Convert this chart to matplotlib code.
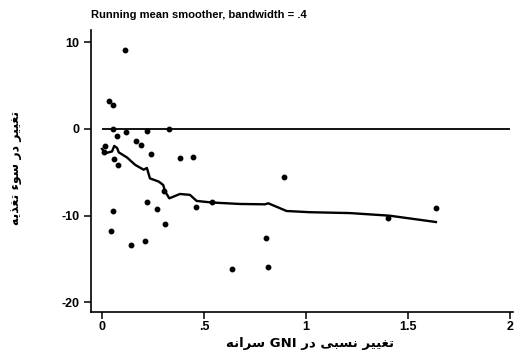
import matplotlib
matplotlib.use("Agg")
import matplotlib.pyplot as plt

# relative change in GNI per capita vs change in malnutrition
gni_change = [0.113, 0.034, 0.052, 0.054, 0.117, 0.221, 0.327, 0.075, 0.168,
              0.191, 0.013, 0.008, 0.060, 0.077, 0.242, 0.384, 0.445, 0.892,
              0.302, 0.219, 0.268, 0.052, 0.307, 0.043, 0.140, 0.209, 0.459,
              0.538, 0.805, 0.812, 0.637, 1.637, 1.402]
malnutrition_change = [9.1, 3.2, 2.8, 0.0, -0.35, -0.2, 0.0, -0.77, -1.4,
                       -1.85, -2.0, -2.7, -3.5, -4.2, -2.9, -3.4, -3.2, -5.55,
                       -7.1, -8.4, -9.27, -9.46, -11.0, -11.76, -13.35, -12.9,
                       -9.05, -8.48, -12.6, -15.9, -16.2, -9.07, -10.27]

# running mean smoother (bandwidth .4)
smooth_x = [0.0, 0.016, 0.049, 0.060, 0.074, 0.082, 0.123, 0.163, 0.204,
            0.220, 0.235, 0.278, 0.300, 0.309, 0.330, 0.382, 0.431, 0.464,
            0.538, 0.676, 0.799, 0.815, 0.905, 1.020, 1.216, 1.410, 1.637]
smooth_y = [-2.3, -2.8, -2.6, -1.96, -2.2, -2.7, -3.3, -4.15, -4.7,
            -4.5, -5.7, -6.07, -6.46, -7.2, -8.0, -7.5, -7.6, -8.3,
            -8.48, -8.65, -8.69, -8.57, -9.46, -9.6, -9.7, -10.0, -10.73]

x_ticks = [0, 0.5, 1, 1.5, 2]
x_tick_labels = ["0", ".5", "1", "1.5", "2"]
y_ticks = [10, 0, -10, -20]
y_tick_labels = ["10", "0", "-10", "-20"]

title = "Running mean smoother, bandwidth = .4"
x_label = "تغییر نسبی در GNI سرانه"
y_label = "تغییر در سوء تغذیه"

# matplotlib has no Arabic shaping, so pick contextual forms by hand
# (isolated, final, initial, medial)
FORMS = {
    "ا": ("\uFE8D", "\uFE8E", None, None),
    "ب": ("\uFE8F", "\uFE90", "\uFE91", "\uFE92"),
    "ت": ("\uFE95", "\uFE96", "\uFE97", "\uFE98"),
    "د": ("\uFEA9", "\uFEAA", None, None),
    "ذ": ("\uFEAB", "\uFEAC", None, None),
    "ر": ("\uFEAD", "\uFEAE", None, None),
    "س": ("\uFEB1", "\uFEB2", "\uFEB3", "\uFEB4"),
    "غ": ("\uFECD", "\uFECE", "\uFECF", "\uFED0"),
    "ن": ("\uFEE5", "\uFEE6", "\uFEE7", "\uFEE8"),
    "ه": ("\uFEE9", "\uFEEA", "\uFEEB", "\uFEEC"),
    "و": ("\uFEED", "\uFEEE", None, None),
    "ی": ("\uFEEF", "\uFEF0", "\uFEF3", "\uFEF4"),
    "ء": ("\uFE80", None, None, None),
}


def shape_word(word):
    out = []
    for i, ch in enumerate(word):
        iso, fin, ini, med = FORMS[ch]
        prev = FORMS.get(word[i - 1]) if i > 0 else None
        nxt = FORMS.get(word[i + 1]) if i + 1 < len(word) else None
        joins_prev = prev is not None and prev[2] is not None and fin is not None
        joins_next = nxt is not None and nxt[1] is not None and ini is not None
        if joins_prev and joins_next:
            out.append(med)
        elif joins_prev:
            out.append(fin)
        elif joins_next:
            out.append(ini)
        else:
            out.append(iso)
    return "".join(reversed(out))


def rtl(text):
    words = []
    for w in reversed(text.split(" ")):
        words.append(shape_word(w) if w[0] in FORMS else w)
    return " ".join(words)


plt.rcParams["font.family"] = ["Liberation Sans Narrow", "Liberation Sans", "DejaVu Sans"]

fig = plt.figure(figsize=(5.14, 3.54), dpi=100)
ax = fig.add_axes([91 / 514, 42 / 354, 422 / 514, 282 / 354])

ax.hlines(0, 0, 2.0, color="black", linewidth=1.3)
ax.plot(smooth_x, smooth_y, color="black", linewidth=1.7)
ax.plot(gni_change, malnutrition_change, "o", color="black", markersize=3.2)

ax.set_xlim(-0.054, 2.015)
ax.set_ylim(-21.1, 11.4)
ax.set_xticks(x_ticks)
ax.set_xticklabels(x_tick_labels)
ax.set_yticks(y_ticks)
ax.set_yticklabels(y_tick_labels)
for side in ("top", "right"):
    ax.spines[side].set_visible(False)
for side in ("left", "bottom"):
    ax.spines[side].set_linewidth(1.2)
ax.tick_params(length=5, width=1.1, labelsize=9)
ax.tick_params(axis="x", pad=1.5)
for lbl in ax.get_xticklabels() + ax.get_yticklabels():
    lbl.set_fontweight("bold")

fig.text(91 / 514, 1 - 15 / 354, title, ha="left", va="center",
         fontsize=8, fontweight="bold")
fig.text(310 / 514, 1 - 343 / 354, rtl(x_label), ha="center", va="center",
         fontsize=9.5, fontweight="bold", family=["DejaVu Sans"])
fig.text(16 / 514, 1 - 168 / 354, rtl(y_label), ha="center", va="center",
         rotation=90, fontsize=9, fontweight="bold", family=["DejaVu Sans"])

fig.savefig("out.png", dpi=100)
